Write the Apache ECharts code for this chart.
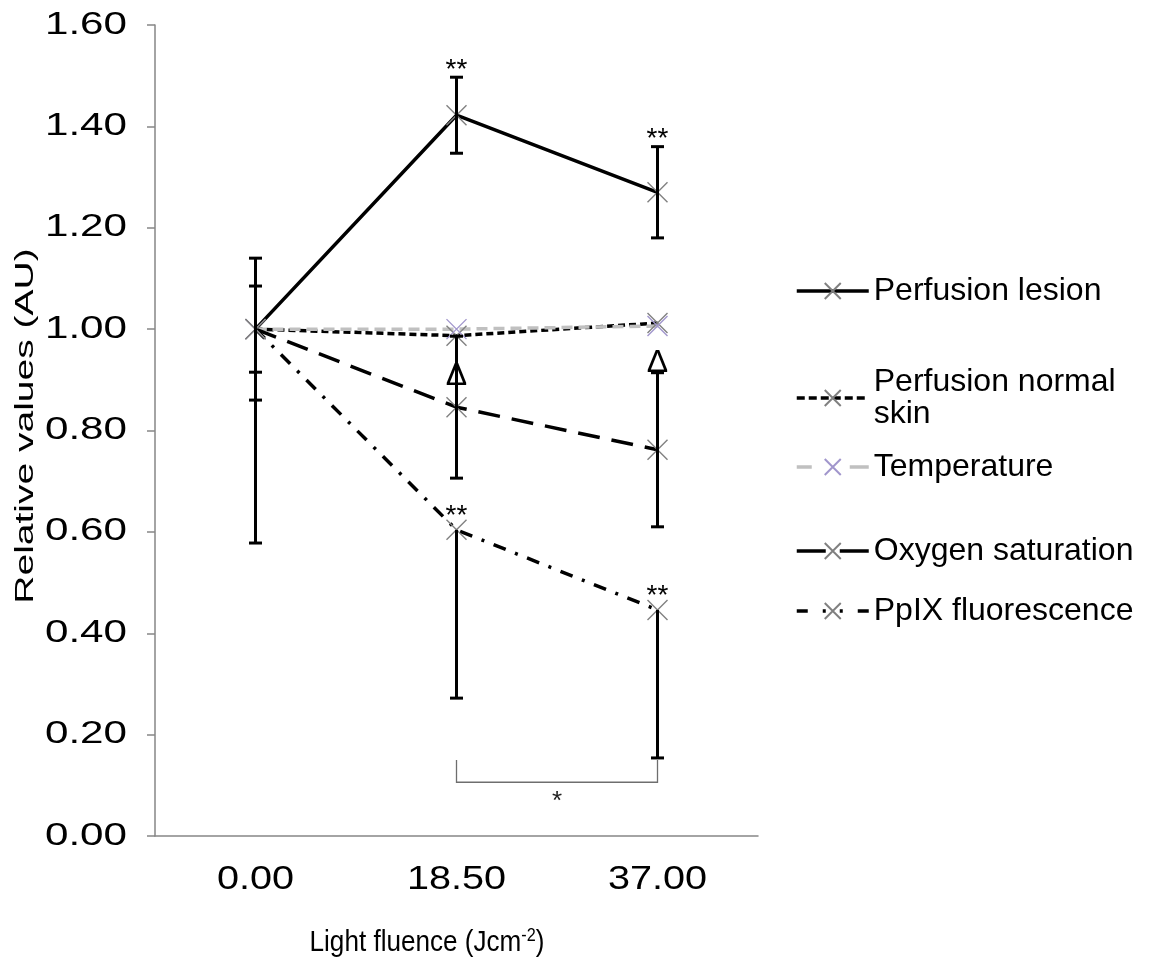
<!DOCTYPE html>
<html>
<head>
<meta charset="utf-8">
<script src="https://cdn.jsdelivr.net/npm/echarts@6/dist/echarts.min.js"></script>
<style>
  html, body { margin: 0; padding: 0; background: #fff; }
  #chart { width: 1154px; height: 965px; }
</style>
</head>
<body>
<div id="chart"></div>
<script>
// Light fluence steps (Jcm-2)
const categories = ['0.00', '18.50', '37.00'];
const yTicks = [0, 0.2, 0.4, 0.6, 0.8, 1.0, 1.2, 1.4, 1.6];

// Relative values (AU), normalised to baseline
const perfusionLesion     = [1.00, 1.422, 1.270];
const perfusionNormalSkin = [1.00, 0.987, 1.012];
const temperature         = [1.00, 1.000, 1.006];
const oxygenSaturation    = [1.00, 0.846, 0.762];
const ppixFluorescence    = [1.00, 0.604, 0.446];

// Error bar extents (below / above the mean)
const lesionErrMinus = [0.085, 0.075, 0.090];
const lesionErrPlus  = [0.085, 0.075, 0.090];
const oxygenErrMinus = [0.140, 0.140, 0.152];
const oxygenErrPlus  = [0.140, 0.140, 0.152];
const ppixErrMinus   = [0.422, 0.332, 0.292];
const ppixErrPlus    = [0, 0, 0];

// Significance marks
const markSeries = ['Perfusion lesion', 'Perfusion lesion', 'Oxygen saturation', 'Oxygen saturation', 'PpIX fluorescence', 'PpIX fluorescence'];
const markIndex  = [1, 2, 1, 2, 1, 2];
const markText   = ['**', '**', '\u0394', '\u0394', '**', '**'];
const markAnchor = ['errTop', 'errTop', 'value', 'errTop', 'value', 'value'];

// Between-fluence comparison (PpIX, 18.50 vs 37.00)
const bracketPair   = [1, 2];
const bracketLevels = [0.150, 0.106];
const bracketText   = '*';

const FONT = "'Liberation Sans', Arial, sans-serif";
const seriesValues = {
  'Perfusion lesion': perfusionLesion,
  'Perfusion normal skin': perfusionNormalSkin,
  'Temperature': temperature,
  'Oxygen saturation': oxygenSaturation,
  'PpIX fluorescence': ppixFluorescence
};
const seriesErrTop = {
  'Perfusion lesion': perfusionLesion.map((v, i) => v + lesionErrPlus[i]),
  'Oxygen saturation': oxygenSaturation.map((v, i) => v + oxygenErrPlus[i]),
  'PpIX fluorescence': ppixFluorescence.map((v, i) => v + ppixErrPlus[i])
};

const crossSymbol = 'path://M0,0L10,10M10,0L0,10';

function lineSeries(name, data, lineColor, dash, markColor) {
  return {
    name: name,
    type: 'line',
    data: data,
    z: 2,
    symbol: crossSymbol,
    symbolSize: 20,
    showSymbol: true,
    lineStyle: { color: lineColor, width: 3.5, type: dash },
    itemStyle: { color: 'rgba(0,0,0,0)', borderColor: markColor, borderWidth: 1.4 },
    emphasis: { disabled: true },
    animation: false
  };
}

function errorData(values, minus, plus) {
  return values.map((v, i) => [i, v - minus[i], v + plus[i], v]);
}

function renderErrorBar(params, api) {
  const i = api.value(0), lo = api.value(1), hi = api.value(2), mid = api.value(3);
  const pLo = api.coord([i, lo]);
  const pHi = api.coord([i, hi]);
  const x = pLo[0];
  const st = { stroke: '#000', lineWidth: 3 };
  const cap = 6.5;
  const children = [{ type: 'line', shape: { x1: x, y1: pHi[1], x2: x, y2: pLo[1] }, style: st }];
  if (lo < mid) children.push({ type: 'line', shape: { x1: x - cap, y1: pLo[1], x2: x + cap, y2: pLo[1] }, style: st });
  if (hi > mid) children.push({ type: 'line', shape: { x1: x - cap, y1: pHi[1], x2: x + cap, y2: pHi[1] }, style: st });
  return { type: 'group', children: children };
}

function errorSeries(values, minus, plus) {
  return {
    type: 'custom',
    renderItem: renderErrorBar,
    data: errorData(values, minus, plus),
    encode: { x: 0, y: [1, 2] },
    z: 4,
    silent: true,
    animation: false
  };
}

// Offsets of the mark text above its anchor
const markOffset = {
  '**value': -14, '**errTop': -7,
  '\u0394value': -31, '\u0394errTop': -10
};

const markData = markText.map((t, k) => {
  const name = markSeries[k], idx = markIndex[k];
  const anchor = markAnchor[k] === 'errTop' ? seriesErrTop[name][idx] : seriesValues[name][idx];
  return [idx, anchor];
});

// Legend: one block per entry so each keeps its own place and line pattern
const legendNames = ['Perfusion lesion', 'Perfusion normal skin', 'Temperature', 'Oxygen saturation', 'PpIX fluorescence'];
const legendTops = [275, 350, 451, 535, 595];
const legendDash = ['solid', [8, 4], [15, 38, 19], [29, 14, 29], [11, 15, 3, 14, 3, 15, 11]];

const chart = echarts.init(document.getElementById('chart'), null, { renderer: 'canvas' });

chart.setOption({
  backgroundColor: '#fff',
  animation: false,
  textStyle: { fontFamily: FONT },
  grid: { left: 155, top: 25, width: 603, height: 811, containLabel: false },
  legend: legendNames.map((n, k) => ({
    data: [n],
    orient: 'vertical',
    left: 795,
    top: legendTops[k],
    padding: 0,
    itemWidth: 72,
    itemHeight: 20,
    selectedMode: false,
    lineStyle: { type: legendDash[k], width: 3.5 },
    formatter: n === 'Perfusion normal skin' ? 'Perfusion normal\nskin' : '{name}',
    textStyle: {
      fontFamily: FONT, fontSize: 32, color: '#000', lineHeight: 32,
      padding: n === 'Perfusion normal skin' ? [32, 0, 0, 0] : 0
    }
  })),
  graphic: [
    {
      type: 'text', x: 26, y: 426, rotation: Math.PI / 2, scaleX: 1.5,
      style: { text: 'Relative values (AU)', fontFamily: FONT, fontSize: 26, fill: '#000', align: 'center', verticalAlign: 'middle' }
    },
    {
      type: 'text', x: 427, y: 943, scaleX: 0.9,
      style: {
        text: '{a|Light fluence (Jcm}{s|-2}{a|)}', align: 'center', verticalAlign: 'middle',
        rich: {
          a: { fontFamily: FONT, fontSize: 29, fill: '#000', lineHeight: 32 },
          s: { fontFamily: FONT, fontSize: 18, fill: '#000', lineHeight: 18, verticalAlign: 'top' }
        }
      }
    }
  ],
  xAxis: {
    type: 'category',
    data: categories,
    boundaryGap: true,
    axisLine: { lineStyle: { color: '#868686', width: 1.5 } },
    axisTick: { show: false },
    axisLabel: { show: false },
    splitLine: { show: false }
  },
  yAxis: {
    type: 'value',
    min: yTicks[0],
    max: yTicks[yTicks.length - 1],
    interval: yTicks[1] - yTicks[0],
    axisLine: { show: true, lineStyle: { color: '#868686', width: 1.5 } },
    axisTick: { show: true, length: 8, lineStyle: { color: '#868686', width: 1.5 } },
    axisLabel: { show: false },
    splitLine: { show: false }
  },
  series: [
    lineSeries('Perfusion lesion', perfusionLesion, '#000', 'solid', '#808080'),
    lineSeries('Perfusion normal skin', perfusionNormalSkin, '#000', [7, 4], '#808080'),
    lineSeries('Temperature', temperature, '#c0c0c0', [11, 6], '#a196cc'),
    lineSeries('Oxygen saturation', oxygenSaturation, '#000', [22, 12], '#808080'),
    lineSeries('PpIX fluorescence', ppixFluorescence, '#000', [13, 10, 3, 10], '#808080'),
    errorSeries(perfusionLesion, lesionErrMinus, lesionErrPlus),
    errorSeries(oxygenSaturation, oxygenErrMinus, oxygenErrPlus),
    errorSeries(ppixFluorescence, ppixErrMinus, ppixErrPlus),
    // value-axis tick labels, placed by the y scale
    {
      type: 'custom',
      clip: false,
      silent: true,
      animation: false,
      data: yTicks.map(v => [0, v]),
      encode: { x: 0, y: 1 },
      renderItem: (params, api) => {
        const y = api.coord([0, api.value(1)])[1];
        return {
          type: 'text', x: params.coordSys.x - 28, y: y, scaleX: 1.36,
          style: { text: api.value(1).toFixed(2), fontFamily: FONT, fontSize: 31, fill: '#000', align: 'right', verticalAlign: 'middle' }
        };
      }
    },
    // category tick labels, placed by the x scale
    {
      type: 'custom',
      clip: false,
      silent: true,
      animation: false,
      data: categories.map((c, i) => [i, 0]),
      encode: { x: 0, y: 1 },
      renderItem: (params, api) => {
        const i = api.value(0);
        const x = api.coord([i, 0])[0];
        return {
          type: 'text', x: x, y: params.coordSys.y + params.coordSys.height + 44, scaleX: 1.2,
          style: { text: categories[i], fontFamily: FONT, fontSize: 33, fill: '#000', align: 'center', verticalAlign: 'middle' }
        };
      }
    },
    {
      type: 'custom',
      z: 5,
      silent: true,
      animation: false,
      data: markData,
      encode: { x: 0, y: 1 },
      renderItem: (params, api) => {
        const k = params.dataIndex;
        const p = api.coord([api.value(0), api.value(1)]);
        const off = markOffset[markText[k] + markAnchor[k]];
        return {
          type: 'text',
          x: p[0], y: p[1] + off,
          style: {
            text: markText[k], fontFamily: FONT,
            fontSize: markText[k] === '**' ? 28 : 32,
            fill: '#000', align: 'center', verticalAlign: 'middle'
          }
        };
      }
    },
    {
      type: 'custom',
      z: 5,
      silent: true,
      animation: false,
      data: [[bracketPair[0], bracketPair[1], bracketLevels[0], bracketLevels[1]]],
      encode: { x: [0, 1], y: [2, 3] },
      renderItem: (params, api) => {
        const a = api.coord([api.value(0), api.value(2)]);
        const b = api.coord([api.value(1), api.value(3)]);
        const st = { stroke: '#6e6e6e', lineWidth: 1.3, fill: null };
        return {
          type: 'group',
          children: [
            { type: 'polyline', shape: { points: [[a[0], a[1]], [a[0], b[1]], [b[0], b[1]], [b[0], a[1]]] }, style: st },
            { type: 'text', x: (a[0] + b[0]) / 2, y: b[1] + 20,
              style: { text: bracketText, fontFamily: FONT, fontSize: 26, fill: '#222', align: 'center', verticalAlign: 'middle' } }
          ]
        };
      }
    }
  ]
});
</script>
</body>
</html>
